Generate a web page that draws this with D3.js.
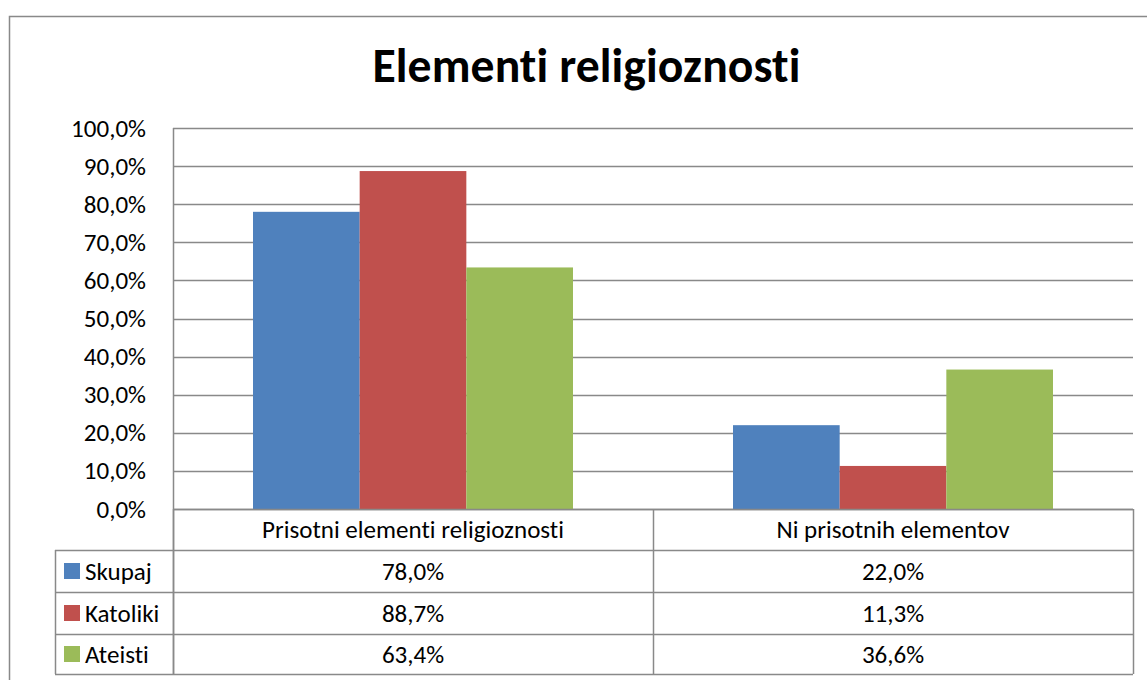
<!DOCTYPE html>
<html><head><meta charset="utf-8">
<script src="https://cdnjs.cloudflare.com/ajax/libs/d3/7.8.5/d3.min.js"></script>
<style>body{margin:0;background:#fff}svg{display:block}text{font-variant-ligatures:none;font-feature-settings:"liga" 0,"clig" 0,"calt" 0,"dlig" 0}</style>
</head><body>
<svg id="c" width="1147" height="680"></svg>
<script>
const title = "Elementi religioznosti";
const categories = ["Prisotni elementi religioznosti", "Ni prisotnih elementov"];
const seriesNames = ["Skupaj", "Katoliki", "Ateisti"];
const skupaj = [78.0, 22.0];
const katoliki = [88.7, 11.3];
const ateisti = [63.4, 36.6];
const tickValues = [0,10,20,30,40,50,60,70,80,90,100];
const colors = ["#4F81BD", "#C0504D", "#9BBB59"];
const seriesValues = [skupaj, katoliki, ateisti];

const fmt = v => d3.format(".1f")(v).replace(".", ",") + "%";
const FONT = "Carlito, Lato, 'Open Sans', sans-serif";
const svg = d3.select("#c");
const line = "#898989";

svg.append("rect").attr("x",9.5).attr("y",16.5).attr("width",1160).attr("height",700)
  .attr("fill","#fff").attr("stroke",line).attr("stroke-width",1.5);

const L = 173, R = 1133, T = 128, B = 509;
const x = d3.scaleBand().domain(categories).range([L, R]).paddingInner(0).paddingOuter(0);
const y = d3.scaleLinear().domain([0,100]).range([B, T]);
const bw = x.bandwidth() / 4.5;
const xs = d3.scaleBand().domain(seriesNames).range([0.75*bw, 3.75*bw]);

function fitSize(text, weight, target, ls){
  const t = svg.append("text").attr("font-family",FONT).attr("font-weight",weight).attr("font-size",100)
    .attr("letter-spacing", ls||0).text(text);
  const w = t.node().getComputedTextLength(); t.remove();
  return 100*target/w;
}
const fsTitle = fitSize(title, "bold", 427, 0.1);
const fs = fitSize("Ni prisotnih elementov", "normal", 233, 0.01);

svg.append("text").attr("x",(373+800)/2).attr("y",82).attr("text-anchor","middle")
  .attr("letter-spacing",0.1)
  .attr("font-family",FONT).attr("font-weight","bold").attr("font-size",fsTitle).attr("fill","#000").text(title);

svg.append("g").selectAll("line").data(tickValues).join("line")
  .attr("x1",L).attr("x2",R).attr("y1",d=>Math.round(y(d))+0.5).attr("y2",d=>Math.round(y(d))+0.5)
  .attr("stroke",line).attr("stroke-width",1.5);

const yAxis = d3.axisLeft(y).tickValues(tickValues).tickFormat(fmt).tickSize(0).tickPadding(27);
const ga = svg.append("g").attr("transform",`translate(${L},0)`).call(yAxis);
ga.select(".domain").remove();
ga.selectAll("text").attr("font-family",FONT).attr("font-size",fs).attr("fill","#000");

seriesNames.forEach((s,i)=>{
  svg.append("g").selectAll("rect").data(categories).join("rect")
    .attr("x",c=>x(c)+xs(s)).attr("width",xs.bandwidth())
    .attr("y",(c,j)=>y(seriesValues[i][j])).attr("height",(c,j)=>B-y(seriesValues[i][j]))
    .attr("fill",colors[i]);
});

svg.append("line").attr("x1",L+0.5).attr("x2",L+0.5).attr("y1",T).attr("y2",674).attr("stroke",line).attr("stroke-width",1.5);

const rowsY = [509, 550, 592, 634, 674];
const TL = 55;
const tg = svg.append("g");
tg.append("line").attr("x1",L).attr("x2",R).attr("y1",B+0.5).attr("y2",B+0.5).attr("stroke",line).attr("stroke-width",1.5);
rowsY.slice(1).forEach(yy=>{
  tg.append("line").attr("x1",TL).attr("x2",R).attr("y1",yy+0.5).attr("y2",yy+0.5).attr("stroke",line).attr("stroke-width",1.5);
});
[L, x(categories[1]), R].forEach(xx=>{
  tg.append("line").attr("x1",Math.round(xx)+0.5).attr("x2",Math.round(xx)+0.5).attr("y1",B).attr("y2",674).attr("stroke",line).attr("stroke-width",1.5);
});
tg.append("line").attr("x1",TL+0.5).attr("x2",TL+0.5).attr("y1",550).attr("y2",674).attr("stroke",line).attr("stroke-width",1.5);

categories.forEach(c=>{
  tg.append("text").attr("x",x(c)+x.bandwidth()/2).attr("y",(rowsY[0]+rowsY[1])/2).attr("dy","0.35em")
    .attr("letter-spacing",0.01)
    .attr("text-anchor","middle").attr("font-family",FONT).attr("font-size",fs).attr("fill","#000").text(c);
});
seriesNames.forEach((s,i)=>{
  const cy = (rowsY[i+1]+rowsY[i+2])/2;
  tg.append("rect").attr("x",64).attr("y",cy-8).attr("width",16).attr("height",16).attr("fill",colors[i]);
  tg.append("text").attr("x",85).attr("y",cy).attr("dy","0.35em").attr("font-family",FONT).attr("font-size",fs).attr("fill","#000").text(s);
  categories.forEach((c,j)=>{
    tg.append("text").attr("x",x(c)+x.bandwidth()/2).attr("y",cy).attr("dy","0.35em")
      .attr("text-anchor","middle").attr("font-family",FONT).attr("font-size",fs).attr("fill","#000").text(fmt(seriesValues[i][j]));
  });
});
</script>
</body></html>
